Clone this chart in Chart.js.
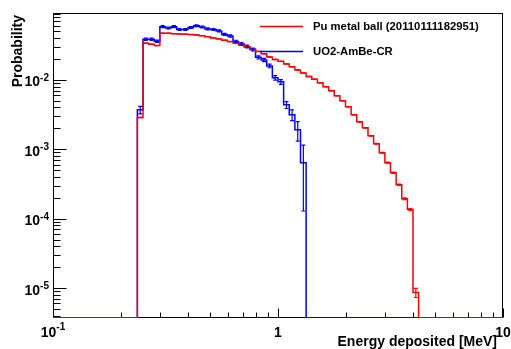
<!DOCTYPE html>
<html><head><meta charset="utf-8">
<script src="https://cdn.jsdelivr.net/npm/chart.js@4.4.1/dist/chart.umd.min.js"></script>
<style>html,body{margin:0;padding:0;background:#fff;}#wrap{width:511px;height:349px;position:relative;}</style>
</head><body>
<div id="wrap"><canvas id="c" width="511" height="349"></canvas></div>
<script>
// Log-spaced bin edges (MeV), 40 bins per decade
const binEdges = [0.2371,0.2512,0.2661,0.2818,0.2985,0.3162,0.3350,0.3548,0.3758,0.3981,
  0.4217,0.4467,0.4732,0.5012,0.5309,0.5623,0.5957,0.6310,0.6683,0.7079,
  0.7499,0.7943,0.8414,0.8913,0.9441,1.0000,1.0593,1.1220,1.1885,1.2589,
  1.3335,1.4125,1.4962,1.5849,1.6788,1.7783,1.8836,1.9953,2.1135,2.2387,
  2.3714,2.5119,2.6607,2.8184,2.9854,3.1623,3.3497,3.5481,3.7584,3.9811,4.2170];
const seriesNames = ['Pu metal ball (20110111182951)', 'UO2-AmBe-CR'];
const redValues = [2.87e-3,0.0337,0.0326,0.0312,0.0470,0.0470,0.0464,0.0459,0.0455,0.0449,
  0.0444,0.0434,0.0420,0.0402,0.0389,0.0373,0.0356,0.0341,0.0319,0.0298,
  0.0279,0.0257,0.0237,0.0214,0.0197,0.0185,0.0170,0.0154,0.0139,0.0126,
  0.0112,0.0102,0.00906,0.00793,0.00695,0.00589,0.00499,0.00409,0.00314,0.00249,
  0.00204,0.00156,0.00120,8.9e-4,6.4e-4,4.6e-4,3.08e-4,1.94e-4,1.35e-4,8.6e-6];
const redErrors = [2.4e-5,8e-5,8e-5,8e-5,9.5e-5,9.5e-5,9.5e-5,9.4e-5,9.4e-5,9.3e-5,
  9.3e-5,9.2e-5,9e-5,8.8e-5,8.7e-5,8.5e-5,8.3e-5,8.1e-5,7.9e-5,7.6e-5,
  7.3e-5,7.1e-5,6.8e-5,6.4e-5,6.2e-5,6.0e-5,5.7e-5,5.5e-5,5.2e-5,4.9e-5,
  4.7e-5,4.4e-5,4.2e-5,3.9e-5,3.7e-5,3.4e-5,3.1e-5,2.8e-5,2.5e-5,2.2e-5,
  2.0e-5,1.7e-5,1.5e-5,1.3e-5,1.1e-5,9.4e-6,7.7e-6,6.1e-6,5.1e-6,1.3e-6];
const blueValues = [3.70e-3,0.0385,0.0385,0.0360,0.0585,0.0560,0.0585,0.0533,0.0533,0.0569,
  0.0604,0.0579,0.0542,0.0533,0.0507,0.0452,0.0430,0.0358,0.0330,0.0303,
  0.0275,0.0211,0.0194,0.0159,0.0107,0.00936,0.00437,0.00314,0.00191,6.39e-4];
const blueErrors = [4.6e-4,1.5e-3,1.5e-3,1.45e-3,1.85e-3,1.8e-3,1.85e-3,1.75e-3,1.75e-3,1.8e-3,
  1.9e-3,1.85e-3,1.8e-3,1.75e-3,1.7e-3,1.6e-3,1.55e-3,1.45e-3,1.4e-3,1.3e-3,
  1.25e-3,1.1e-3,1.05e-3,9.5e-4,8e-4,7.5e-4,5e-4,5.6e-4,6e-4,5.1e-4];
const xRange = [0.1, 10];
const yRange = [3.7e-6, 0.092];
const xMajorTicks = [0.1, 1, 10];
const xTickLabels = [['10','-1'], ['1',''], ['10','']];
const xMinorTicks = [0.2,0.3,0.4,0.5,0.6,0.7,0.8,0.9,2,3,4,5,6,7,8,9];
const yMajorTicks = [1e-5, 1e-4, 1e-3, 1e-2];
const yTickLabels = [['10','-5'],['10','-4'],['10','-3'],['10','-2']];
const yMinorTicks = [4e-6,5e-6,6e-6,7e-6,8e-6,9e-6,2e-5,3e-5,4e-5,5e-5,6e-5,7e-5,8e-5,9e-5,
  2e-4,3e-4,4e-4,5e-4,6e-4,7e-4,8e-4,9e-4,2e-3,3e-3,4e-3,5e-3,6e-3,7e-3,8e-3,9e-3,
  2e-2,3e-2,4e-2,5e-2,6e-2,7e-2,8e-2,9e-2];
const xTitle = 'Energy deposited [MeV]';
const yTitle = 'Probability';
const RED = '#ff0000', BLUE = '#0000ff';
const FONT = '"Liberation Sans", Arial, Helvetica, sans-serif';

function histPoints(values) {
  const pts = [{x: xRange[0], y: yRange[0]}];
  for (let i = 0; i < values.length; i++) pts.push({x: binEdges[i], y: values[i]});
  pts.push({x: binEdges[values.length], y: yRange[0]});
  pts.push({x: xRange[1], y: yRange[0]});
  return pts;
}

const errs = {0: {v: redValues, e: redErrors, c: RED}, 1: {v: blueValues, e: blueErrors, c: BLUE}};

const rootPlugin = {
  id: 'rootStyle',
  beforeDatasetsDraw(chart) {
    const ctx = chart.ctx, a = chart.chartArea, xs = chart.scales.x, ys = chart.scales.y;
    ctx.save();
    ctx.strokeStyle = '#000'; ctx.lineWidth = 1;
    const L = Math.round(a.left) + 0.5, R = Math.round(a.right) - 0.5, T = Math.round(a.top) + 0.5, B = Math.round(a.bottom) - 0.5;
    ctx.strokeRect(L, T, R - L, B - T);
    ctx.beginPath();
    yMajorTicks.forEach(v => { const y = Math.round(ys.getPixelForValue(v)) + 0.5; ctx.moveTo(L, y); ctx.lineTo(L + 13, y); });
    yMinorTicks.forEach(v => { const y = Math.round(ys.getPixelForValue(v)) + 0.5; ctx.moveTo(L, y); ctx.lineTo(L + 7, y); });
    xMajorTicks.forEach(v => { const x = Math.round(xs.getPixelForValue(v)) + 0.5; ctx.moveTo(x, B); ctx.lineTo(x, B - 9); });
    xMinorTicks.forEach(v => { const x = Math.round(xs.getPixelForValue(v)) + 0.5; ctx.moveTo(x, B); ctx.lineTo(x, B - 5); });
    ctx.stroke();
    ctx.restore();
  },
  afterDatasetsDraw(chart) {
    const ctx = chart.ctx, xs = chart.scales.x, ys = chart.scales.y;
    ctx.save();
    ctx.lineWidth = 1.2;
    [0, 1].forEach(k => {
      const s = errs[k];
      ctx.strokeStyle = s.c;
      ctx.beginPath();
      for (let i = 0; i < s.v.length; i++) {
        if (!s.e[i]) continue;
        const xc = xs.getPixelForValue((binEdges[i] + binEdges[i + 1]) / 2);
        const y1 = ys.getPixelForValue(s.v[i] + s.e[i]);
        const y2 = ys.getPixelForValue(Math.max(s.v[i] - s.e[i], yRange[0]));
        ctx.moveTo(xc, y1); ctx.lineTo(xc, y2);
        ctx.moveTo(xc - 2, y1); ctx.lineTo(xc + 2, y1);
        ctx.moveTo(xc - 2, y2); ctx.lineTo(xc + 2, y2);
      }
      ctx.stroke();
    });
    ctx.restore();
  },
  afterDraw(chart) {
    const ctx = chart.ctx, a = chart.chartArea, xs = chart.scales.x, ys = chart.scales.y;
    ctx.save();
    ctx.fillStyle = '#000';
    ctx.textBaseline = 'alphabetic';
    const big = 'bold 14px ' + FONT, small = 'bold 10px ' + FONT;
    yMajorTicks.forEach((v, i) => {
      const y = ys.getPixelForValue(v);
      const [b, e] = yTickLabels[i];
      ctx.font = small; const we = ctx.measureText(e).width;
      ctx.font = big; const wb = ctx.measureText(b).width;
      const right = a.left - 4;
      ctx.textAlign = 'left';
      ctx.fillText(b, right - we - wb, y + 6.5);
      ctx.font = small; ctx.fillText(e, right - we, y + 1);
    });
    xMajorTicks.forEach((v, i) => {
      const x = xs.getPixelForValue(v);
      const [b, e] = xTickLabels[i];
      ctx.font = small; const we = e ? ctx.measureText(e).width : 0;
      ctx.font = big; const wb = ctx.measureText(b).width;
      const left = x - (wb + we) / 2;
      ctx.textAlign = 'left';
      ctx.fillText(b, left, 336.5);
      if (e) { ctx.font = small; ctx.fillText(e, left + wb, 330); }
    });
    ctx.font = big;
    ctx.textAlign = 'right';
    ctx.fillText(xTitle, 497, 346);
    ctx.save();
    ctx.translate(22, 15); ctx.rotate(-Math.PI / 2);
    ctx.fillText(yTitle, 0, 0);
    ctx.restore();
    ctx.font = 'bold 11.3px ' + FONT;
    ctx.textAlign = 'left'; ctx.textBaseline = 'middle';
    const legY = [26, 51], cols = [RED, BLUE];
    seriesNames.forEach((n, i) => {
      ctx.strokeStyle = cols[i]; ctx.lineWidth = 1.5;
      ctx.beginPath(); ctx.moveTo(260, legY[i] + 0.5); ctx.lineTo(303, legY[i] + 0.5); ctx.stroke();
      ctx.fillStyle = '#000';
      ctx.fillText(n, 313, legY[i] + 0.5);
    });
    ctx.restore();
  }
};

new Chart(document.getElementById('c'), {
  type: 'scatter',
  data: {
    datasets: [
      {label: seriesNames[0], data: histPoints(redValues), showLine: true, stepped: 'before',
       borderColor: RED, borderWidth: 1.5, pointRadius: 0, fill: false},
      {label: seriesNames[1], data: histPoints(blueValues), showLine: true, stepped: 'before',
       borderColor: BLUE, borderWidth: 1.5, pointRadius: 0, fill: false}
    ]
  },
  options: {
    responsive: false, animation: false, devicePixelRatio: 1,
    layout: {padding: {left: 53, right: 8, top: 13, bottom: 31}},
    plugins: {legend: {display: false}, tooltip: {enabled: false}},
    scales: {
      x: {type: 'logarithmic', min: xRange[0], max: xRange[1], display: false},
      y: {type: 'logarithmic', min: yRange[0], max: yRange[1], display: false}
    }
  },
  plugins: [rootPlugin]
});
</script>
</body></html>
